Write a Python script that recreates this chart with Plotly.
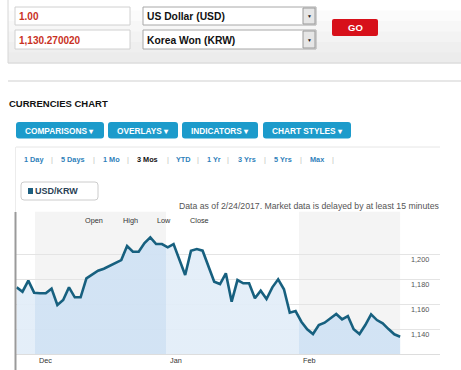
import plotly.graph_objects as go

# ---------------- data ----------------
values = [1173.6, 1170.1, 1178.9, 1169.3, 1168.8, 1168.8, 1172.5, 1159.4, 1163.4, 1173.6,
          1165.6, 1165.6, 1180.8, 1184.0, 1186.9, 1188.5, 1190.9, 1193.6, 1195.4, 1206.6,
          1202.1, 1202.1, 1209.0, 1213.6, 1208.2, 1208.2, 1205.6, 1208.2, 1195.8, 1183.4,
          1202.9, 1204.2, 1202.9, 1190.0, 1178.1, 1176.2, 1184.8, 1162.1, 1179.4, 1176.8,
          1176.8, 1164.8, 1170.9, 1164.2, 1173.6, 1180.0, 1172.0, 1153.3, 1154.6, 1146.1,
          1140.0, 1136.2, 1143.4, 1145.3, 1148.7, 1152.2, 1148.0, 1150.6, 1140.0, 1136.2,
          1143.4, 1152.0, 1147.4, 1144.8, 1140.2, 1136.0, 1134.1]
month_labels = ["Dec", "Jan", "Feb"]
month_start_idx = [3.15, 25.7, 48.6]
last_idx_edge = 66.0
y_ticks = [1140, 1160, 1180, 1200]
y_tick_labels = ["1,140", "1,160", "1,180", "1,200"]
periods = ["1 Day", "5 Days", "1 Mo", "3 Mos", "YTD", "1 Yr", "3 Yrs", "5 Yrs", "Max"]
menu_buttons = ["COMPARISONS", "OVERLAYS", "INDICATORS", "CHART STYLES"]
ohlc = ["Open", "High", "Low", "Close"]

FONT = "Arial, Liberation Sans, sans-serif"
W, H = 461, 370


def X(p):
    return p / W


def Y(p):
    return 1 - p / H


shapes = []
annotations = []


def rect(x0, y0, x1, y1, fill, line=None, lw=1, layer="above"):
    shapes.append(dict(type="rect", xref="paper", yref="paper",
                       x0=X(x0), x1=X(x1), y0=Y(y1), y1=Y(y0),
                       fillcolor=fill, layer=layer,
                       line=dict(color=line if line else "rgba(0,0,0,0)", width=lw if line else 0)))


def rrect(x0, y0, x1, y1, r, fill, line=None, lw=1):
    p = (f"M {X(x0+r)},{Y(y0)} L {X(x1-r)},{Y(y0)} Q {X(x1)},{Y(y0)} {X(x1)},{Y(y0+r)} "
         f"L {X(x1)},{Y(y1-r)} Q {X(x1)},{Y(y1)} {X(x1-r)},{Y(y1)} "
         f"L {X(x0+r)},{Y(y1)} Q {X(x0)},{Y(y1)} {X(x0)},{Y(y1-r)} "
         f"L {X(x0)},{Y(y0+r)} Q {X(x0)},{Y(y0)} {X(x0+r)},{Y(y0)} Z")
    shapes.append(dict(type="path", xref="paper", yref="paper", path=p, fillcolor=fill,
                       line=dict(color=line if line else "rgba(0,0,0,0)", width=lw if line else 0)))


def hline(x0, x1, y, color, w=1):
    shapes.append(dict(type="line", xref="paper", yref="paper", x0=X(x0), x1=X(x1),
                       y0=Y(y), y1=Y(y), line=dict(color=color, width=w)))


def vline(x, y0, y1, color, w=1):
    shapes.append(dict(type="line", xref="paper", yref="paper", x0=X(x), x1=X(x),
                       y0=Y(y0), y1=Y(y1), line=dict(color=color, width=w)))


def txt(x, y, s, size, color, bold=False, anchor="left"):
    annotations.append(dict(x=X(x), y=Y(y), xref="paper", yref="paper",
                            text=f"<b>{s}</b>" if bold else s, showarrow=False,
                            xanchor=anchor, yanchor="middle", borderpad=0,
                            font=dict(size=size, color=color, family=FONT)))


# ---------------- top converter form ----------------
grad = ["#ffffff", "#fbfbfb", "#f7f7f7", "#f3f3f3", "#efefef", "#ececec"]
for i, c in enumerate(grad):
    rect(8, i * 10.5, 462, (i + 1) * 10.5 + 0.5, c)
shapes.append(dict(type="path", xref="paper", yref="paper",
                   path=f"M {X(8)},{Y(0)} L {X(8)},{Y(63)} L {X(462)},{Y(63)}",
                   line=dict(color="#d6d6d6", width=1)))

rect(15, 7, 130, 25, "#ffffff", "#d0d0d0")
rect(15, 30, 130, 49, "#ffffff", "#d0d0d0")
txt(18, 16.5, "1.00", 10, "#c9321f", bold=True)
txt(18, 40, "1,130.270020", 10, "#c9321f", bold=True)

rect(143, 7, 316, 25, "#ffffff", "#a8a8a8")
rect(143, 30, 316, 49, "#ffffff", "#a8a8a8")
rect(303, 8, 315, 24, "#e6e6e6", "#9a9a9a")
rect(303, 31, 315, 48, "#e6e6e6", "#9a9a9a")
txt(309, 16, "▼", 5, "#222222", anchor="center")
txt(309, 39.5, "▼", 5, "#222222", anchor="center")
txt(146, 16.5, "US Dollar (USD)", 10.3, "#111111", bold=True)
txt(146, 40, "Korea Won (KRW)", 10.3, "#111111", bold=True)

rrect(332, 19, 378, 36, 2, "#d7101a")
txt(355, 27.5, "GO", 9.5, "#ffffff", bold=True, anchor="center")

hline(8, 461, 81, "#cfcfcf", 1)

# ---------------- header / menus ----------------
txt(8, 103, "CURRENCIES CHART", 9.5, "#111111", bold=True)

btn_x = [(16, 104), (108, 178), (182, 258), (263, 351)]
for (bx0, bx1), label in zip(btn_x, menu_buttons):
    rrect(bx0, 122, bx1, 138.5, 3, "#1c9bcb")
    txt((bx0 + bx1) / 2, 130.5, label + " ▾", 8.3, "#ffffff", bold=True, anchor="center")

hline(16, 440, 147, "#e6e6e6", 1)
vline(15.5, 147, 213, "#ececec", 1)

period_x = [23, 60, 102, 136, 175, 206, 237, 273, 309]
sep_x = [52, 94, 128, 168, 198, 228, 265, 301, 333]
for px, label in zip(period_x, periods):
    col = "#111111" if label == "3 Mos" else "#2f7fba"
    txt(px, 159, label, 7.3, col, bold=True)
for sx in sep_x:
    txt(sx, 159, "|", 7.3, "#bdbdbd", anchor="center")

# legend box
rrect(21, 182, 98, 200, 3, "#ffffff", "#cccccc")
rect(28, 188, 33, 194, "#1d5f80")
txt(34, 191, "USD/KRW", 9, "#2a3f55", bold=True)

txt(440, 205.5, "Data as of 2/24/2017. Market data is delayed by at least 15 minutes",
    8.7, "#555555", anchor="right")

ohlc_x = [94, 130, 164, 199]
for ox, label in zip(ohlc_x, ohlc):
    txt(ox, 220.5, label, 7.3, "#333333", anchor="center")

# ---------------- chart ----------------
idx = list(range(len(values)))
n_span = idx[-1] - idx[0]

band_edges = month_start_idx + [last_idx_edge]
for i in range(len(month_start_idx)):
    if i % 2 == 0:
        shapes.append(dict(type="rect", xref="x", yref="y domain",
                           x0=band_edges[i], x1=band_edges[i + 1], y0=0, y1=1,
                           fillcolor="#f4f4f4", line=dict(width=0), layer="below"))

# horizontal fill gradient with hard steps at month boundaries
LIGHT, DARK = "rgba(226,237,248,0.93)", "rgba(208,226,244,0.93)"
stops = [[0.0, LIGHT]]
cols = [DARK, LIGHT, DARK]
for m, c_prev, c in zip(month_start_idx, [LIGHT] + cols[:-1], cols):
    f = (m - idx[0]) / n_span
    stops.append([f, c_prev])
    stops.append([f, c])
stops.append([1.0, cols[-1]])

for m, lab in zip(month_start_idx, month_labels):
    annotations.append(dict(x=m, y=Y(360), xref="x", yref="paper", text=lab,
                            showarrow=False, xanchor="left", yanchor="middle", xshift=2,
                            font=dict(size=7.3, color="#333333", family=FONT)))

for v, lab in zip(y_ticks, y_tick_labels):
    annotations.append(dict(x=X(409), y=v, xref="paper", yref="y", text=lab,
                            showarrow=False, xanchor="left", yanchor="middle", yshift=-5,
                            font=dict(size=7.3, color="#555555", family=FONT)))

vline(15.5, 212, 370, "#9a9a9a", 2)

fig = go.Figure()
fig.add_trace(go.Scatter(x=idx, y=values, mode="lines", fill="tozeroy",
                         fillgradient=dict(type="horizontal", colorscale=stops),
                         line=dict(color="#17607f", width=2.6), hoverinfo="skip"))

fig.update_layout(
    width=W, height=H,
    margin=dict(l=0, r=0, t=0, b=0),
    paper_bgcolor="#ffffff", plot_bgcolor="rgba(0,0,0,0)",
    showlegend=False,
    shapes=shapes, annotations=annotations,
    xaxis=dict(domain=[16 / W, 440 / W], range=[-0.12, 72.86], showgrid=False,
               zeroline=False, showticklabels=False, ticks="",
               showline=True, linecolor="#dddddd", linewidth=1, fixedrange=True),
    yaxis=dict(domain=[(H - 354.3) / H, (H - 211.8) / H], range=[1120, 1234],
               tickvals=y_ticks, showgrid=True, gridcolor="#e4e4e4", gridwidth=1,
               zeroline=False, showticklabels=False, ticks="", fixedrange=True),
    font=dict(family=FONT),
)

fig.write_html("out.html", config={"displayModeBar": False},
               post_script="document.body.style.margin='0';document.body.style.overflow='hidden';")
